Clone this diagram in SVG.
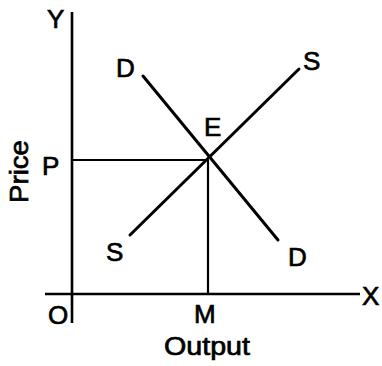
<svg xmlns="http://www.w3.org/2000/svg" width="382" height="366" viewBox="0 0 382 366">
<style>
.ln{stroke:#000;stroke-width:3;fill:none;stroke-linecap:round}
.ax{stroke:#000;stroke-width:2.6;fill:none}
.gd{stroke:#000;stroke-width:2.2;fill:none}
.t{font-family:"Liberation Sans",Arial,sans-serif;font-size:26px;fill:#000;stroke:#000;stroke-width:0.7}
</style>
<rect width="382" height="366" fill="#fff"/>
<g id="axes">
<line class="ax" x1="72" y1="12" x2="72" y2="323"/>
<line class="ax" x1="45" y1="294" x2="360" y2="294"/>
</g>
<g id="connectors">
<line class="gd" x1="72" y1="160" x2="208" y2="160"/>
<line class="gd" x1="208" y1="160" x2="208" y2="294"/>
<line id="demand" class="ln" x1="143" y1="76" x2="278" y2="240"/>
<line id="supply" class="ln" x1="299" y1="69" x2="130" y2="235"/>
</g>
<g id="labels">
<text class="t" x="47" y="28">Y</text>
<text class="t" x="116" y="77">D</text>
<text class="t" x="303" y="70">S</text>
<text class="t" x="204" y="136">E</text>
<text class="t" x="42" y="175">P</text>
<text class="t" x="106" y="261">S</text>
<text class="t" x="288" y="266">D</text>
<text class="t" x="48" y="324">O</text>
<text class="t" x="194" y="323">M</text>
<text class="t" x="362" y="305">X</text>
<text class="t" x="164" y="355" textLength="86" lengthAdjust="spacingAndGlyphs">Output</text>
<text class="t" transform="translate(28,203) rotate(-90)" textLength="63" lengthAdjust="spacingAndGlyphs">Price</text>
</g>
</svg>
